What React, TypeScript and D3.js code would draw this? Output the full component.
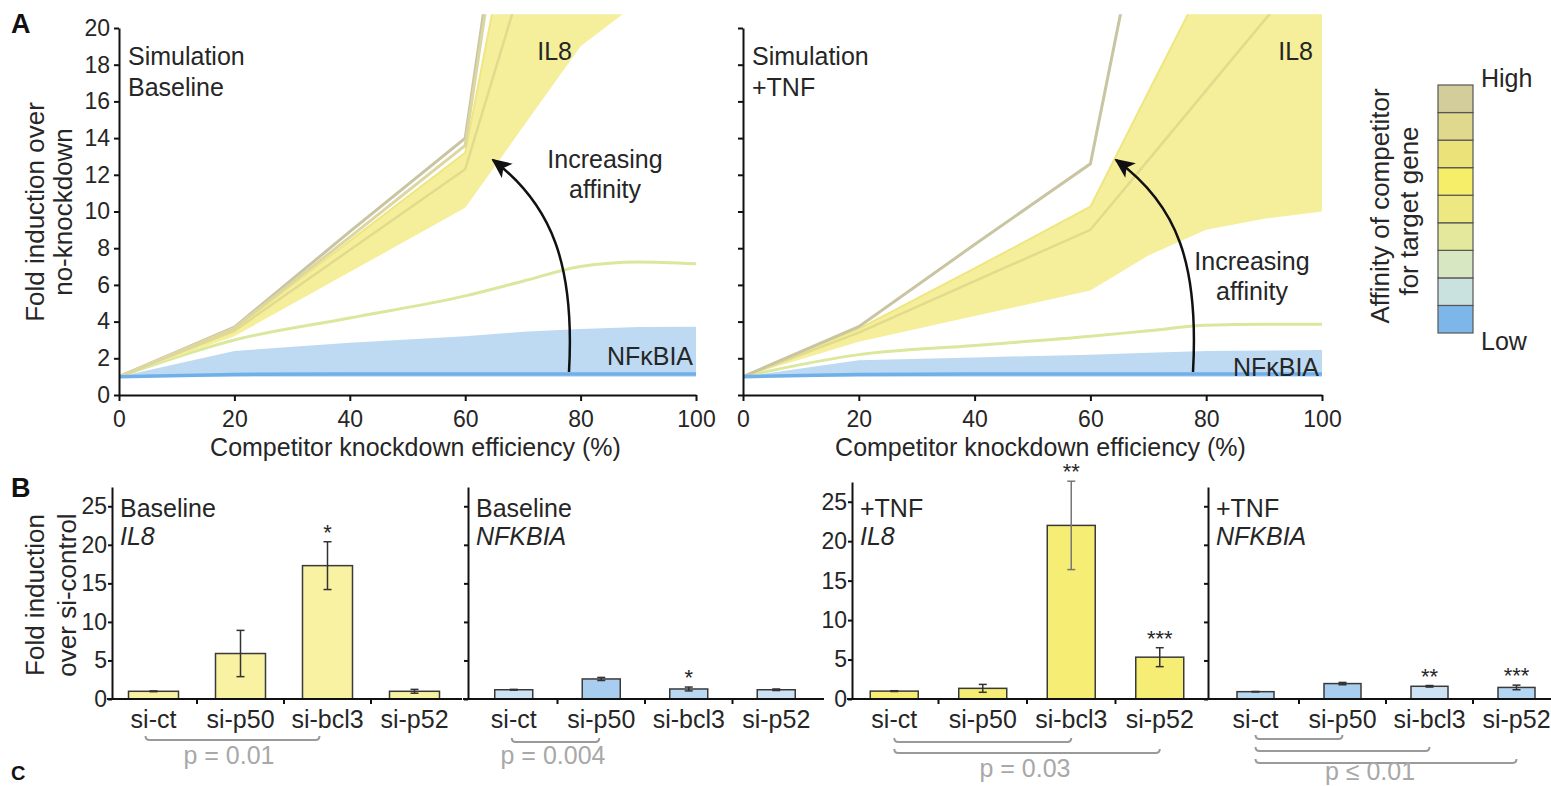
import React, { useEffect, useRef } from "react";
import * as d3 from "d3";

// knockdown efficiency (%) sampled by the simulation
const KD_PCT = [0, 20, 40, 60, 70, 80, 90, 100];

// A, baseline simulation: fold induction over no-knockdown
const BASE_IL8_TOP1 = [1, 3.7, 8.9, 14.0, 35.5, 57, 78.5, 100];
const BASE_IL8_TOP2 = [1, 3.65, 8.6, 13.6, 34.5, 55, 75.5, 96];
const BASE_IL8_HI = [1, 3.6, 8.4, 13.2, 29.5, 45.8, 62, 78];
const BASE_IL8_MID = [1, 3.5, 7.9, 12.3, 22.7, 33, 43.5, 54];
const BASE_IL8_LO = [1, 3.2, 6.7, 10.2, 14.6, 19, 21.4, 23.7];
const BASE_MID_AFF = [1, 3.0, 4.2, 5.4, 6.2, 7.0, 7.25, 7.15];
const BASE_NFKBIA_HI = [1, 2.4, 2.85, 3.2, 3.45, 3.6, 3.7, 3.72];
const BASE_NFKBIA_LO = [1, 1.12, 1.15, 1.15, 1.15, 1.15, 1.15, 1.15];

// A, +TNF simulation
const TNF_IL8_TOP1 = [1, 3.72, 8.2, 12.6, 28.3, 44, 59.7, 75.4];
const TNF_IL8_HI = [1, 3.6, 6.9, 10.26, 16.5, 22.7, 28.9, 35];
const TNF_IL8_MID = [1, 3.4, 6.2, 9.0, 12.8, 16.6, 20.4, 24.2];
const TNF_IL8_LO = [1, 2.9, 4.3, 5.7, 7.6, 9.0, 9.6, 10.0];
const TNF_MID_AFF = [1, 2.2, 2.7, 3.2, 3.5, 3.8, 3.85, 3.85];
const TNF_NFKBIA_HI = [1, 1.9, 2.05, 2.2, 2.3, 2.4, 2.42, 2.45];
const TNF_NFKBIA_LO = [1, 1.12, 1.15, 1.15, 1.15, 1.15, 1.15, 1.15];

const A_X_TICKS = [0, 20, 40, 60, 80, 100];
const A_Y_TICKS = [0, 2, 4, 6, 8, 10, 12, 14, 16, 18, 20];

// colour scale, low -> high affinity
const AFFINITY_COLORS = ["#7db7ea", "#c9e2e0", "#d7e7c1", "#e4e89c", "#ede882", "#f6ee68", "#ebe27a", "#dfd88d", "#d3cd9b"];

// B, qPCR fold induction over si-control
const SI_LABELS = ["si-ct", "si-p50", "si-bcl3", "si-p52"];
const BASE_IL8_MEAN = [1.0, 5.9, 17.3, 1.0];
const BASE_IL8_ERR = [0.05, 3.0, 3.1, 0.25];
const BASE_NFKBIA_MEAN = [1.2, 2.6, 1.3, 1.2];
const BASE_NFKBIA_ERR = [0.05, 0.2, 0.25, 0.1];
const TNF_IL8_MEAN = [1.0, 1.35, 22.0, 5.3];
const TNF_IL8_ERR = [0.05, 0.5, 5.6, 1.2];
const TNF_NFKBIA_MEAN = [0.95, 2.0, 1.65, 1.5];
const TNF_NFKBIA_ERR = [0.03, 0.15, 0.1, 0.3];
const BASE_IL8_STARS = ["", "", "*", ""];
const BASE_NFKBIA_STARS = ["", "", "*", ""];
const TNF_IL8_STARS = ["", "", "**", "***"];
const TNF_NFKBIA_STARS = ["", "", "**", "***"];
const B_Y_TICKS = [0, 5, 10, 15, 20, 25];

const FONT = "'Liberation Sans', Arial, Helvetica, sans-serif";
const INK = "#262626";
const FS = 25;
const TICK_FS = 23;

function addText(g: any, x: number, y: number, s: string, o: any = {}) {
  return g
    .append("text")
    .attr("x", x)
    .attr("y", y)
    .attr("font-size", o.size ?? FS)
    .attr("text-anchor", o.anchor ?? "start")
    .attr("fill", o.fill ?? INK)
    .attr("font-style", o.italic ? "italic" : null)
    .attr("font-weight", o.bold ? "bold" : null)
    .text(s);
}

function addVText(g: any, x: number, y: number, s: string, size = 26) {
  return g
    .append("text")
    .attr("transform", `translate(${x},${y}) rotate(-90)`)
    .attr("text-anchor", "middle")
    .attr("font-size", size)
    .attr("fill", INK)
    .text(s);
}

function styleAxis(ax: any, showText: boolean) {
  ax.attr("font-family", FONT).attr("font-size", TICK_FS);
  ax.select(".domain").attr("stroke", "#111").attr("stroke-width", 2);
  ax.selectAll(".tick line").attr("stroke", "#111").attr("stroke-width", 2);
  ax.selectAll(".tick text").attr("fill", INK).attr("display", showText ? null : "none");
}

function drawSim(svg: any, p: any) {
  const x = d3.scaleLinear().domain([0, 100]).range([p.x0, p.x1]);
  const y = d3.scaleLinear().domain([0, 20]).range([395, 28]);
  const clipId = `clip-${p.id}`;
  svg
    .select("defs")
    .append("clipPath")
    .attr("id", clipId)
    .append("rect")
    .attr("x", p.x0)
    .attr("y", y(20.75))
    .attr("width", p.x1 - p.x0 + 3)
    .attr("height", y(0) - y(20.75));

  const g = svg.append("g").attr("clip-path", `url(#${clipId})`);
  const band = d3
    .area<any>()
    .x((d) => x(d.k))
    .y0((d) => y(d.lo))
    .y1((d) => y(d.hi));
  const line = d3
    .line<any>()
    .x((d, i) => x(KD_PCT[i]))
    .y((d) => y(d));

  const zip = (lo: number[], hi: number[]) => KD_PCT.map((k, i) => ({ k, lo: lo[i], hi: hi[i] }));

  // NFKBIA band
  g.append("path").attr("d", band(zip(p.nfLo.map(() => 1.0), p.nfHi))).attr("fill", "#bedaf2");
  // intermediate affinity
  g.append("path")
    .attr("d", line.curve(d3.curveMonotoneX)(p.midAff))
    .attr("fill", "none")
    .attr("stroke", "#d9e89d")
    .attr("stroke-width", 3);
  line.curve(d3.curveLinear);
  // IL8 band
  g.append("path").attr("d", band(zip(p.il8Lo, p.il8Hi))).attr("fill", "#f5ef9c");
  g.append("path").attr("d", line(p.il8Hi)).attr("fill", "none").attr("stroke", "#efe681").attr("stroke-width", 2);
  g.append("path").attr("d", line(p.il8Mid)).attr("fill", "none").attr("stroke", "#e2da8c").attr("stroke-width", 2.5);
  p.tops.forEach((t: number[], i: number) => {
    g.append("path")
      .attr("d", line(t))
      .attr("fill", "none")
      .attr("stroke", i === 0 ? "#c9c5a2" : "#dcd6a2")
      .attr("stroke-width", 3);
  });
  g.append("path").attr("d", line(p.nfLo)).attr("fill", "none").attr("stroke", "#6fb0ea").attr("stroke-width", 3.5);

  // axes
  const ya = svg
    .append("g")
    .attr("transform", `translate(${p.x0},0)`)
    .call(d3.axisLeft(y).tickValues(A_Y_TICKS).tickSize(5).tickSizeOuter(0).tickPadding(4));
  styleAxis(ya, p.yLabels);
  const xa = svg
    .append("g")
    .attr("transform", "translate(0,395)")
    .call(d3.axisBottom(x).tickValues(A_X_TICKS).tickSize(6).tickSizeOuter(0).tickPadding(10));
  styleAxis(xa, true);

  addText(svg, (p.x0 + p.x1) / 2 + 8, 456, "Competitor knockdown efficiency (%)", { anchor: "middle" });
  addText(svg, p.x0 + 9, 65, "Simulation");
  addText(svg, p.x0 + 9, 96, p.cond);
  addText(svg, p.il8X, 60, "IL8", { anchor: "end" });
  addText(svg, p.incX, p.incY, "Increasing", { anchor: "middle" });
  addText(svg, p.incX, p.incY + 30, "affinity", { anchor: "middle" });
  addText(svg, p.x1 - 3, p.nfY, "NF\u03baBIA", { anchor: "end" });

  svg
    .append("path")
    .attr("d", p.arrow)
    .attr("fill", "none")
    .attr("stroke", "#111")
    .attr("stroke-width", 2.5)
    .attr("marker-end", "url(#arrowhead)");
}

function drawBars(svg: any, c: any) {
  const x = d3.scaleBand<string>().domain(SI_LABELS).range([c.x0, c.x1]);
  const y = d3.scaleLinear().domain([0, 27.5]).range([699, c.yTop]);
  const g = svg.append("g");
  const cx = (i: number) => (x(SI_LABELS[i]) as number) + x.bandwidth() / 2;

  // bars
  g.selectAll("rect.bar")
    .data(c.mean)
    .enter()
    .append("rect")
    .attr("x", (d: number, i: number) => cx(i) - c.barW / 2)
    .attr("y", (d: number) => y(d))
    .attr("width", c.barW)
    .attr("height", (d: number) => y(0) - y(d))
    .attr("fill", (d: number, i: number) => c.fills[i])
    .attr("stroke", "#3a3a3a")
    .attr("stroke-width", 1.5);

  // error bars
  c.mean.forEach((m: number, i: number) => {
    const e = c.err[i];
    const col = c.errColors ? c.errColors[i] : "#333";
    g.append("line").attr("x1", cx(i)).attr("x2", cx(i)).attr("y1", y(m - e)).attr("y2", y(m + e)).attr("stroke", col).attr("stroke-width", 1.5);
    [m - e, m + e].forEach((v) =>
      g.append("line").attr("x1", cx(i) - 4).attr("x2", cx(i) + 4).attr("y1", y(v)).attr("y2", y(v)).attr("stroke", col).attr("stroke-width", 1.5)
    );
    if (c.stars[i]) addText(g, cx(i), y(m + e) - 2, c.stars[i], { anchor: "middle", size: 22 });
  });

  // axes
  const ya = svg
    .append("g")
    .attr("transform", `translate(${c.axisX},0)`)
    .call(d3.axisLeft(y).tickValues(B_Y_TICKS).tickSize(4).tickSizeOuter(0).tickPadding(1));
  styleAxis(ya, c.tickLabels);
  g.append("line").attr("x1", c.axisX - 5).attr("x2", c.x1 + 4).attr("y1", 699).attr("y2", 699).attr("stroke", "#111").attr("stroke-width", 2);
  SI_LABELS.slice(1).forEach((s) => {
    const bx = x(s) as number;
    g.append("line").attr("x1", bx).attr("x2", bx).attr("y1", 699).attr("y2", 704).attr("stroke", "#111").attr("stroke-width", 2);
  });
  SI_LABELS.forEach((s, i) => addText(g, cx(i), 728, s, { anchor: "middle" }));

  addText(g, c.axisX + 8, 517, c.cond);
  addText(g, c.axisX + 8, 545, c.gene, { italic: true });

  // significance brackets
  c.brackets.forEach((b: number[]) => {
    const x1 = cx(b[0]) + c.bdx;
    const x2 = cx(b[1]) + c.bdx;
    g.append("path")
      .attr("d", `M${x1},${b[2] - 4}Q${x1},${b[2]} ${x1 + 4},${b[2]}L${x2 - 4},${b[2]}Q${x2},${b[2]} ${x2},${b[2] - 4}`)
      .attr("fill", "none")
      .attr("stroke", "#9a9a9a")
      .attr("stroke-width", 2);
  });
  addText(g, c.pX, c.pY, c.pText, { anchor: "middle", fill: "#a8a8a8" });
}

export default function App() {
  const ref = useRef<SVGSVGElement>(null);

  useEffect(() => {
    const svg = d3.select(ref.current);
    svg.selectAll("*").remove();
    svg.attr("font-family", FONT);
    svg.append("rect").attr("width", 1551).attr("height", 786).attr("fill", "#fff");
    const defs = svg.append("defs");
    defs
      .append("marker")
      .attr("id", "arrowhead")
      .attr("viewBox", "0 0 10 10")
      .attr("refX", 9)
      .attr("refY", 5)
      .attr("markerUnits", "userSpaceOnUse")
      .attr("markerWidth", 20)
      .attr("markerHeight", 20)
      .attr("orient", "auto")
      .append("path")
      .attr("d", "M0,0.5L10,5L0,9.5L2.5,5Z")
      .attr("fill", "#111");

    // panel letters
    addText(svg, 11, 33, "A", { bold: true, size: 27, fill: "#111" });
    addText(svg, 11, 497, "B", { bold: true, size: 27, fill: "#111" });
    addText(svg, 11, 780, "C", { bold: true, size: 20, fill: "#111" });

    drawSim(svg, {
      id: "base",
      x0: 119,
      x1: 696,
      yLabels: true,
      cond: "Baseline",
      tops: [BASE_IL8_TOP1, BASE_IL8_TOP2],
      il8Hi: BASE_IL8_HI,
      il8Mid: BASE_IL8_MID,
      il8Lo: BASE_IL8_LO,
      midAff: BASE_MID_AFF,
      nfHi: BASE_NFKBIA_HI,
      nfLo: BASE_NFKBIA_LO,
      il8X: 572,
      incX: 605,
      incY: 168,
      nfY: 365,
      arrow: "M569,372C575,265 552,205 493,160",
    });
    drawSim(svg, {
      id: "tnf",
      x0: 743,
      x1: 1322,
      yLabels: false,
      cond: "+TNF",
      tops: [TNF_IL8_TOP1],
      il8Hi: TNF_IL8_HI,
      il8Mid: TNF_IL8_MID,
      il8Lo: TNF_IL8_LO,
      midAff: TNF_MID_AFF,
      nfHi: TNF_NFKBIA_HI,
      nfLo: TNF_NFKBIA_LO,
      il8X: 1313,
      incX: 1252,
      incY: 270,
      nfY: 376,
      arrow: "M1193,372C1199,265 1178,205 1116,160",
    });
    addVText(svg, 44, 212, "Fold induction over");
    addVText(svg, 72, 212, "no-knockdown");

    // affinity colour bar
    const leg = svg.append("g");
    const ly = d3
      .scaleBand<number>()
      .domain(d3.range(AFFINITY_COLORS.length))
      .range([333, 85]);
    leg
      .selectAll("rect")
      .data(AFFINITY_COLORS)
      .enter()
      .append("rect")
      .attr("x", 1438)
      .attr("y", (d: string, i: number) => ly(i) as number)
      .attr("width", 35)
      .attr("height", ly.bandwidth())
      .attr("fill", (d: string) => d)
      .attr("stroke", "#555")
      .attr("stroke-width", 1.2);
    addText(leg, 1481, 87, "High");
    addText(leg, 1481, 350, "Low");
    addVText(leg, 1389, 206, "Affinity of competitor");
    addVText(leg, 1418, 211, "for target gene");

    // panel B
    const yellowLight = ["#f8f2a2", "#f8f2a2", "#f8f2a2", "#f8f2a2"];
    const yellow = ["#f5ed74", "#f5ed74", "#f5ed74", "#f5ed74"];
    drawBars(svg, {
      x0: 110, x1: 458, axisX: 112, yTop: 487, barW: 50, tickLabels: true,
      mean: BASE_IL8_MEAN, err: BASE_IL8_ERR, stars: BASE_IL8_STARS, fills: yellowLight,
      cond: "Baseline", gene: "IL8", brackets: [[0, 2, 740]], bdx: -8, pText: "p = 0.01", pX: 229, pY: 764,
    });
    drawBars(svg, {
      x0: 470, x1: 820, axisX: 468, yTop: 487, barW: 38, tickLabels: false,
      mean: BASE_NFKBIA_MEAN, err: BASE_NFKBIA_ERR, stars: BASE_NFKBIA_STARS,
      fills: ["#cde2f4", "#a9cdef", "#bad8f2", "#cde2f4"],
      cond: "Baseline", gene: "NFKBIA", brackets: [[0, 1, 742]], bdx: -2, pText: "p = 0.004", pX: 553, pY: 764,
    });
    drawBars(svg, {
      x0: 850, x1: 1204, axisX: 852, yTop: 482, barW: 48, tickLabels: true,
      mean: TNF_IL8_MEAN, err: TNF_IL8_ERR, stars: TNF_IL8_STARS, fills: yellow,
      errColors: ["#333", "#333", "#777", "#333"],
      cond: "+TNF", gene: "IL8", brackets: [[0, 2, 742], [0, 3, 753]], bdx: 0, pText: "p = 0.03", pX: 1025, pY: 777,
    });
    drawBars(svg, {
      x0: 1212, x1: 1560, axisX: 1208, yTop: 487, barW: 37, tickLabels: false,
      mean: TNF_NFKBIA_MEAN, err: TNF_NFKBIA_ERR, stars: TNF_NFKBIA_STARS,
      fills: ["#bad8f2", "#a9cdef", "#cde2f4", "#b5d6f2"],
      cond: "+TNF", gene: "NFKBIA", brackets: [[0, 1, 739], [0, 2, 751], [0, 3, 763]], bdx: 0, pText: "p \u2264 0.01", pX: 1370, pY: 780,
    });
    addVText(svg, 44, 595, "Fold induction");
    addVText(svg, 76, 595, "over si-control");
  }, []);

  return (
    <svg
      ref={ref}
      width={1551}
      height={786}
      style={{ position: "absolute", left: 0, top: 0, display: "block" }}
    />
  );
}
